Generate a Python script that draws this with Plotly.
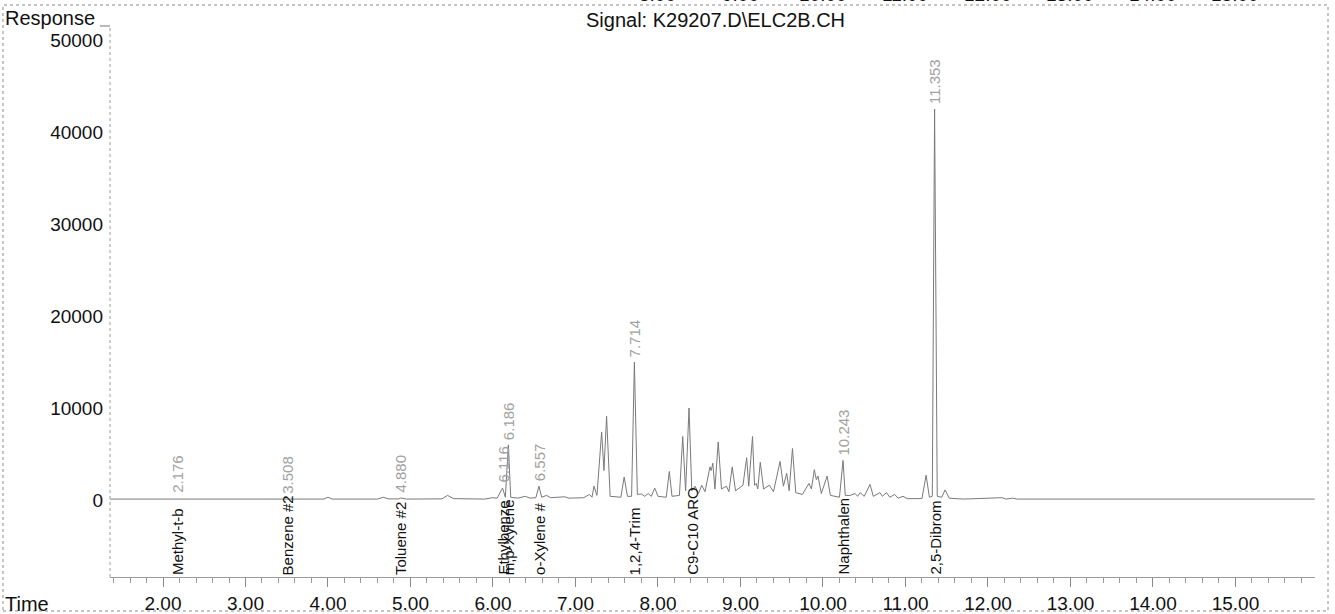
import plotly.graph_objects as go

# Detector trace: retention time (min) and response, vertex by vertex
time_min = [
    1.36, 2.16, 2.176, 2.19, 3.49, 3.508, 3.52, 3.95, 4.00, 4.05,
    4.60, 4.67, 4.73, 4.86, 4.88, 4.95, 5.38, 5.45, 5.52, 5.90,
    5.99, 6.05, 6.116, 6.15, 6.186, 6.215, 6.30, 6.39, 6.45, 6.52,
    6.557, 6.59, 6.65, 6.70, 6.87, 6.92, 7.10, 7.17, 7.20, 7.224,
    7.26, 7.317, 7.345, 7.377, 7.42, 7.55, 7.59, 7.63, 7.68, 7.714,
    7.75, 7.80, 7.84, 7.88, 7.92, 7.96, 8.00, 8.10, 8.137, 8.17,
    8.26, 8.30, 8.335, 8.376, 8.41, 8.45, 8.49, 8.53, 8.57, 8.63,
    8.645, 8.665, 8.69, 8.73, 8.77, 8.83, 8.86, 8.90, 8.94, 8.99,
    9.03, 9.075, 9.10, 9.146, 9.17, 9.19, 9.21, 9.24, 9.28, 9.35,
    9.40, 9.48, 9.52, 9.56, 9.59, 9.63, 9.67, 9.75, 9.83, 9.86,
    9.895, 9.92, 9.94, 9.98, 10.05, 10.09, 10.20, 10.243, 10.27, 10.33,
    10.39, 10.42, 10.45, 10.50, 10.57, 10.61, 10.69, 10.72, 10.77, 10.81,
    10.87, 10.91, 10.97, 11.02, 11.20, 11.25, 11.29, 11.325, 11.353, 11.385,
    11.44, 11.48, 11.53, 11.70, 12.17, 12.22, 12.30, 12.35, 15.40, 15.45,
    15.50, 15.96,
]
response = [
    100, 100, 180, 100, 100, 180, 100, 100, 300, 100,
    100, 300, 120, 120, 220, 100, 120, 500, 150, 100,
    250, 200, 1300, 300, 6000, 300, 200, 400, 200, 250,
    1500, 300, 500, 250, 350, 200, 250, 600, 300, 1500,
    500, 7400, 3200, 9100, 400, 300, 2500, 400, 400, 15000,
    600, 650, 400, 700, 400, 1300, 400, 300, 3100, 400,
    500, 6900, 1000, 10000, 1000, 1500, 700, 1600, 900, 3600,
    3200, 4000, 1200, 6300, 1200, 1500, 900, 3600, 1000, 1300,
    1600, 4600, 1500, 6900, 1600, 1800, 1200, 4100, 1200, 1600,
    900, 4200, 1500, 2900, 1000, 5600, 800, 600, 1800, 1200,
    3300, 2200, 2600, 700, 2600, 500, 300, 4300, 500, 500,
    700, 400, 800, 400, 1700, 400, 800, 400, 800, 300,
    600, 200, 400, 150, 150, 2700, 300, 400, 42500, 400,
    300, 1100, 200, 100, 250, 100, 200, 100, 100, 150,
    100, 100,
]

# Integrated peaks: retention time, apex response, compound name
peak_rt = [2.176, 3.508, 4.880, 6.116, 6.186, 6.557, 7.714, 10.243, 11.353]
peak_apex = [180, 180, 220, 1300, 6000, 1500, 15000, 4300, 42500]
compound_rt = [2.176, 3.508, 4.880, 6.116, 6.186, 6.557, 7.714, 8.41, 10.243, 11.353]
compound_name = ["Methyl-t-b", "Benzene #2", "Toluene #2", "Ethylbenze", "m,p-Xylene",
                 "o-Xylene #", "1,2,4-Trim", "C9-C10 ARO", "Naphthalen", "2,5-Dibrom"]

x_ticks = [2, 3, 4, 5, 6, 7, 8, 9, 10, 11, 12, 13, 14, 15]
y_ticks = [0, 10000, 20000, 30000, 40000, 50000]
prev_page_ticks = [8, 9, 10, 11, 12, 13, 14, 15]

FONT = "Liberation Sans, Arial, sans-serif"
X_RANGE = [1.3576, 15.964]
Y_RANGE = [-8370, 51413]

fig = go.Figure()
fig.add_trace(go.Scatter(
    x=time_min, y=response, mode="lines",
    line=dict(color="#7a7a7a", width=1), hoverinfo="x+y", showlegend=False,
))

ann = []
# retention-time labels above each integrated peak
for rt, h in zip(peak_rt, peak_apex):
    ann.append(dict(x=rt, y=h, xref="x", yref="y", text=f"{rt:.3f}",
                    textangle=-90, showarrow=False, xanchor="center", yanchor="bottom",
                    yshift=3, font=dict(family=FONT, size=15, color="#a2a2a2")))
# compound names standing on the time axis
for rt, name in zip(compound_rt, compound_name):
    ann.append(dict(x=rt, y=0, xref="x", yref="paper", text=name,
                    textangle=-90, showarrow=False, xanchor="center", yanchor="bottom",
                    yshift=0, font=dict(family=FONT, size=15, color="#111")))
# axis captions and signal title
ann.append(dict(x=-0.0888, y=1.0, xref="paper", yref="paper", text="Response",
                showarrow=False, xanchor="left", yanchor="bottom", yshift=-4,
                font=dict(family=FONT, size=20, color="#111")))
ann.append(dict(x=-0.0888, y=0, xref="paper", yref="paper", text="Time",
                showarrow=False, xanchor="left", yanchor="middle", yshift=-27,
                font=dict(family=FONT, size=20, color="#111")))
ann.append(dict(x=0.5022, y=1.0, xref="paper", yref="paper", text="Signal: K29207.D\\ELC2B.CH",
                showarrow=False, xanchor="center", yanchor="middle", yshift=7,
                font=dict(family=FONT, size=20, color="#111")))
# time-axis labels of the preceding page, cut by the page edge
for t in prev_page_ticks:
    ann.append(dict(x=t, y=1.0, xref="x", yref="paper", text=f"{t:.2f}",
                    showarrow=False, xanchor="center", yanchor="middle", yshift=33,
                    font=dict(family=FONT, size=19, color="#111")))

shapes = [
    # page frame
    dict(type="rect", xref="paper", yref="paper", x0=-0.0888, x1=1.0108, y0=-0.0618, y1=1.04,
         line=dict(color="#8a8a8a", width=1, dash="dot")),
    # response axis line and its top marker
    dict(type="line", xref="paper", yref="paper", x0=0, x1=0, y0=0, y1=1.0,
         line=dict(color="#9a9a9a", width=1, dash="dot")),
    dict(type="line", xref="paper", yref="paper", x0=-0.0083, x1=0, y0=1.0018, y1=1.0018,
         line=dict(color="#777", width=1)),
]

fig.update_layout(
    width=1335, height=614,
    margin=dict(l=110, r=20, t=27, b=37),
    paper_bgcolor="white", plot_bgcolor="white",
    font=dict(family=FONT, size=19, color="#111"),
    annotations=ann, shapes=shapes,
    xaxis=dict(range=X_RANGE, tickvals=x_ticks, tickformat=".2f", showgrid=False, zeroline=False,
               automargin=False,
               showline=True, linecolor="#9a9a9a", linewidth=1,
               ticks="outside", ticklen=9, tickcolor="#8a8a8a", ticklabelstandoff=0,
               minor=dict(dtick=0.2, tick0=0, ticks="outside", ticklen=5, tickcolor="#9a9a9a"),
               tickfont=dict(size=19)),
    yaxis=dict(range=Y_RANGE, tickvals=y_ticks, tickformat="d", showgrid=False, zeroline=False,
               automargin=False,
               showline=False, ticks="", ticklabelstandoff=6, tickfont=dict(size=19)),
)

fig.write_html("out.html")
